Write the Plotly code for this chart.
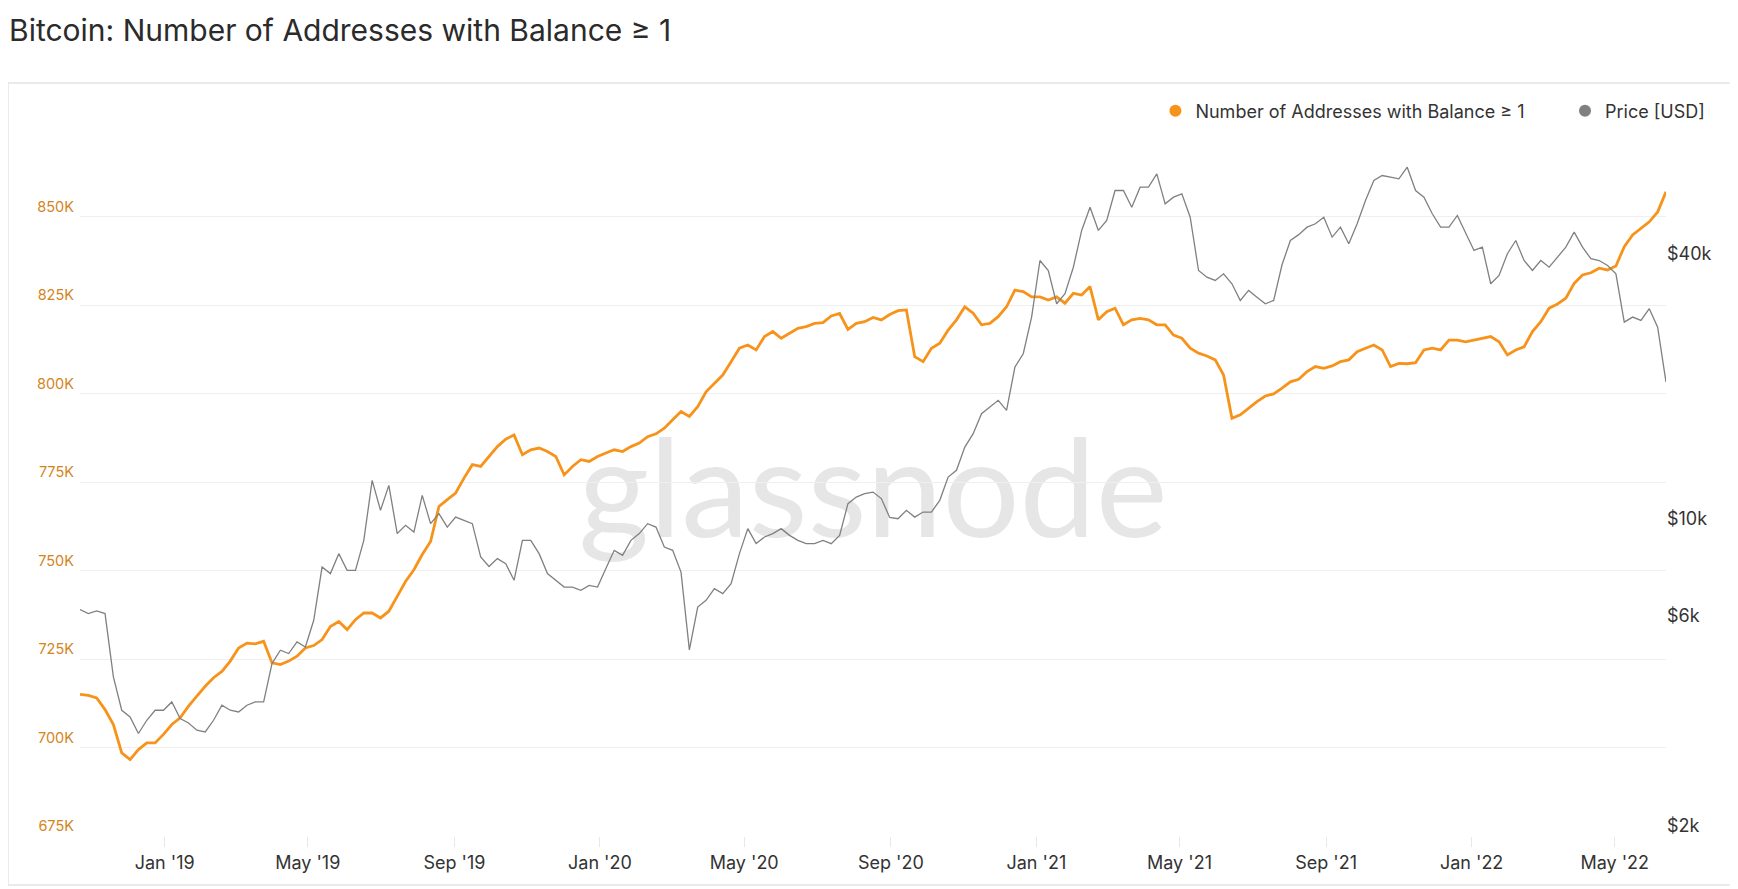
import plotly.graph_objects as go
import pandas as pd

# --- Data (weekly samples, Oct 2018 -> Jun 2022) ---
start_date = "2018-10-22"

# Number of addresses with balance >= 1 BTC, in thousands
addresses_k = [
    715.0, 714.7, 714.0, 710.7, 706.5, 698.5, 696.6, 699.4, 701.3, 701.3,
    703.7, 706.5, 708.4, 711.7, 714.5, 717.3, 719.7, 721.5, 724.4, 728.1,
    729.5, 729.3, 730.0, 723.9, 723.4, 724.4, 725.8, 728.1, 728.8, 730.5,
    734.2, 735.6, 733.3, 736.1, 738.0, 738.0, 736.6, 738.5, 742.7, 746.9,
    750.2, 754.5, 758.2, 768.1, 770.0, 771.9, 776.1, 779.9, 779.4, 782.2,
    785.0, 787.1, 788.3, 782.7, 784.1, 784.6, 783.6, 782.2, 777.0, 779.4,
    781.3, 780.8, 782.2, 783.2, 784.1, 783.6, 785.0, 786.0, 787.8, 788.6,
    790.2, 792.6, 794.9, 793.5, 796.3, 800.5, 802.9, 805.2, 809.0, 812.8,
    813.7, 812.3, 816.1, 817.5, 815.6, 817.0, 818.4, 818.9, 819.8, 820.0,
    821.9, 822.6, 818.1, 819.8, 820.3, 821.5, 820.8, 822.3, 823.4, 823.6,
    810.4, 809.0, 812.8, 814.2, 817.9, 820.8, 824.5, 822.7, 819.4, 819.8,
    821.7, 824.5, 829.2, 828.8, 827.3, 827.3, 826.4, 827.3, 825.5, 828.3,
    827.8, 830.2, 820.8, 823.1, 824.1, 819.4, 820.8, 821.2, 820.8, 819.4,
    819.4, 816.5, 815.6, 812.8, 811.4, 810.6, 809.5, 805.2, 793.0, 794.0,
    795.9, 797.7, 799.3, 799.9, 801.5, 803.3, 804.0, 806.2, 807.6, 807.1,
    807.8, 809.0, 809.5, 811.8, 812.8, 813.7, 812.3, 807.6, 808.5, 808.4,
    808.7, 812.3, 812.8, 812.3, 815.1, 815.1, 814.6, 815.1, 815.6, 816.1,
    814.6, 810.9, 812.3, 813.2, 817.5, 820.3, 824.1, 825.3, 826.9, 831.1,
    833.5, 834.1, 835.4, 834.9, 836.0, 841.5, 844.8, 846.7, 848.5, 851.3,
    857.0,
]

# BTC price in USD
price_usd = [
    6543, 6408, 6496, 6408, 4599, 3863, 3730, 3420, 3666, 3863,
    3863, 4035, 3698, 3614, 3479, 3448, 3666, 3966, 3863, 3828,
    3966, 4035, 4035, 4932, 5289, 5198, 5523, 5381, 6187, 8177,
    7900, 8770, 8037, 8037, 9403, 12870, 11003, 12540, 9739, 10170,
    9820, 11900, 10260, 10815, 10080, 10620, 10440, 10260, 8620, 8200,
    8545, 8325, 7627, 9403, 9403, 8770, 7900, 7627, 7363, 7363,
    7237, 7430, 7363, 8110, 8923, 8694, 9403, 9739, 10260, 10080,
    9078, 8923, 7964, 5300, 6632, 6868, 7303, 7114, 7497, 8770,
    9998, 9243, 9568, 9739, 9998, 9652, 9403, 9243, 9243, 9403,
    9243, 9652, 11395, 11795, 12006, 12106, 11700, 10600, 10530, 11003,
    10620, 10904, 10904, 11594, 13095, 13565, 15320, 16436, 18250, 18890,
    19570, 18567, 23290, 24980, 30260, 40690, 38620, 32450, 34200, 39290,
    47630, 53800, 47630, 50180, 58700, 58700, 53800, 59730, 59730, 64070,
    54760, 56690, 57700, 51050, 38620, 37300, 36660, 37960, 36030, 33010,
    34790, 33590, 32450, 33010, 39800, 45190, 46600, 48450, 49320, 51050,
    45990, 48450, 44430, 49320, 55720, 61870, 63500, 62950, 62420, 66320,
    58700, 56690, 51980, 48450, 48450, 51510, 46810, 42900, 43640, 36030,
    37620, 42160, 45190, 40690, 38620, 40690, 39290, 41410, 43640, 47210,
    43640, 41070, 40690, 39660, 37960, 29470, 30260, 29730, 31620, 28710,
    21530,
]

left_ticks = [675, 700, 725, 750, 775, 800, 825, 850, 875]
left_labels = ["675K", "700K", "725K", "750K", "775K", "800K", "825K", "850K", ""]
right_ticks = [2000, 6000, 10000, 40000]
right_labels = ["$2k", "$6k", "$10k", "$40k"]

dates = pd.date_range(start_date, periods=len(addresses_k), freq="7D")

ORANGE = "#f7931a"
GREY = "#808080"
FONT = "Inter, Roboto, sans-serif"
NBSP = "\u00a0"

fig = go.Figure()

fig.add_trace(go.Scatter(
    x=dates, y=addresses_k, mode="lines",
    line=dict(color=ORANGE, width=2.8),
    showlegend=False, yaxis="y",
))
fig.add_trace(go.Scatter(
    x=dates, y=price_usd, mode="lines",
    line=dict(color=GREY, width=1.3),
    showlegend=False, yaxis="y2",
))

# legend entries drawn as dots
fig.add_trace(go.Scatter(
    x=[None], y=[None], mode="markers",
    marker=dict(color=ORANGE, size=12),
    name="Number of Addresses with Balance ≥ 1" + NBSP * 7,
))
fig.add_trace(go.Scatter(
    x=[None], y=[None], mode="markers",
    marker=dict(color=GREY, size=12),
    name="Price [USD]", yaxis="y2",
))

# outer frame + watermark
fig.add_shape(
    type="rect", xref="paper", yref="paper",
    x0=-0.0454, x1=1.0422, y0=-0.0692, y1=1.0636,
    line=dict(color="#e3e3e3", width=1.5), fillcolor="rgba(0,0,0,0)",
    layer="below",
)
fig.add_shape(
    type="rect", xref="paper", yref="paper",
    x0=0.30, x1=0.70, y0=0.40, y1=0.60,
    line=dict(width=0), fillcolor="rgba(0,0,0,0)", layer="below",
    label=dict(text="glassnode", textposition="middle center",
               font=dict(family="Lato, sans-serif", size=136, color="#e6e6e6")),
)

fig.update_layout(
    width=1730, height=881,
    margin=dict(l=72, r=72, t=120, b=53),
    paper_bgcolor="white", plot_bgcolor="white",
    font=dict(family=FONT, color="#333333"),
    title=dict(
        text="Bitcoin: Number of Addresses with Balance ≥ 1",
        x=0.0006, xanchor="left", xref="container",
        y=0.975, yanchor="middle", yref="container",
        font=dict(size=30, color="#2b2b2b", family=FONT),
    ),
    legend=dict(
        orientation="h", x=1.028, xanchor="right", y=1.024, yanchor="middle",
        font=dict(size=18, color="#333333"), bgcolor="rgba(0,0,0,0)",
        itemwidth=30,
    ),
    xaxis=dict(
        type="date", range=["2018-10-22", "2022-06-13"],
        tick0="2019-01-01", dtick="M4", tickformat="%b '%y",
        showgrid=False, zeroline=False, showline=False,
        ticks="outside", ticklen=10, tickcolor="#e8e8e8", tickwidth=1,
        tickfont=dict(size=18, color="#333333"),
    ),
    yaxis=dict(
        range=[675, 875], tickvals=left_ticks, ticktext=left_labels,
        showgrid=True, gridcolor="#efefef", gridwidth=1,
        zeroline=False, showline=False,
        tickfont=dict(size=14.5, color="#d4851d"),
        ticklabelshift=-10, ticklabelstandoff=5,
    ),
    yaxis2=dict(
        overlaying="y", side="right", type="log",
        range=[3.30103, 4.9108], tickvals=right_ticks, ticktext=right_labels,
        showgrid=False, zeroline=False, showline=False,
        tickfont=dict(size=18, color="#333333"),
        ticklabelshift=-10,
    ),
)

fig.write_html("out.html")
